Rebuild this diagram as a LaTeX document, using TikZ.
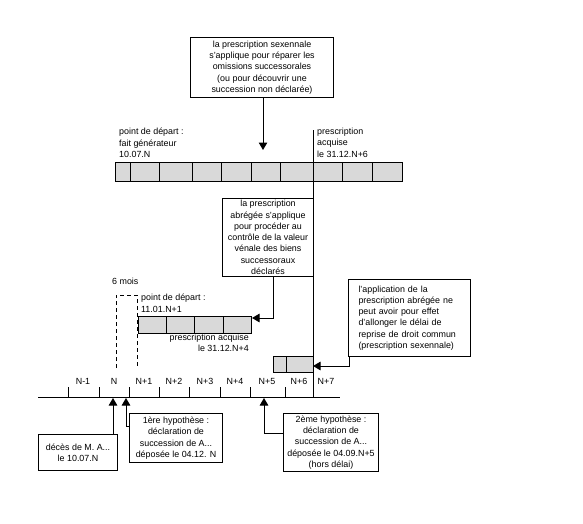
\documentclass[tikz,border=0pt]{standalone}
\usepackage{fontspec}
\setmainfont{Liberation Sans}
\usetikzlibrary{arrows.meta}
\begin{document}
\begin{tikzpicture}[x=1pt,y=-1pt,
  every node/.style={font=\fontsize{8.9}{11.3}\selectfont, inner sep=0pt},
  box/.style={draw, line width=1pt, align=center, anchor=north west},
  lbl/.style={anchor=north west, align=left},
  cellst/.style={draw, fill=black!15, line width=1pt},
  ln/.style={line width=1pt},
  dsh/.style={line width=1pt, dash pattern=on 4pt off 3pt},
  arr/.style={line width=1pt, -{Triangle[length=7.5pt,width=8.5pt]}}]
\useasboundingbox (0,0) rectangle (583,524);

% top box
\node[box, minimum width=143pt, minimum height=60pt] (top) at (190,37)
  {la prescription sexennale\\s'applique pour réparer les\\omissions successorales\\(ou pour découvrir une\\succession non déclarée)};
\coordinate (a1) at (263,150);
\draw[arr] (top.south -| a1) -- (a1);

% top bar
\foreach \a/\b in {115/130,130/159,159/192,192/221,221/251,251/280,280/313,313/342,342/372,372/402}
  \draw[cellst] (\a,162) rectangle (\b,181);
\node[lbl] (pd1) at (119,128) {point de départ :\\fait générateur\\10.07.N};
\node[lbl] (pa1) at (317,128) {prescription\\acquise\\le 31.12.N+6};

% long vertical line
\coordinate (vt) at (313,130);
\coordinate (vb) at (313,397);
\draw[ln] (vt) -- (vb);

% middle box
\node[box, minimum width=91pt, minimum height=78pt] (mid) at (222,198)
  {la prescription\\abrégée s'applique\\pour procéder au\\contrôle de la valeur\\vénale des biens\\successoraux\\déclarés};

% second bar
\foreach \a/\b in {138/166,166/194,194/223,223/251}
  \draw[cellst] (\a,316) rectangle (\b,333);
\node[lbl] (pd2) at (141,294) {point de départ :\\11.01.N+1};
\node[anchor=north east, align=right] (pa2) at (249,334) {prescription acquise\\le 31.12.N+4};
\coordinate (mx) at (273,0);
\coordinate (b2t) at (252,318);
\draw[arr] (mid.south -| mx) |- (b2t);

% right box
\node[draw, line width=1pt, anchor=north west, align=left, minimum width=122pt, minimum height=77pt, text width=102pt, inner xsep=10pt] (rbox) at (348,279)
  {l'application de la\\prescription abrégée ne\\peut avoir pour effet\\d'allonger le délai de\\reprise de droit commun\\(prescription sexennale)};
\coordinate (sbt) at (313,366);
\draw[arr] (rbox.south west) ++(1,0) coordinate (rs) -- (rs |- sbt) -- (sbt);

% small bar
\draw[cellst] (273,356) rectangle (286,372);
\draw[cellst] (286,356) rectangle (313,372);

% 6 mois dashed
\node[anchor=north west] (six) at (112,278) {6 mois};
\draw[dsh] (116,368) -- (116,295) -- (137,295) -- (137,368);

% axis
\coordinate (ax0) at (38,397);
\coordinate (ax1) at (340,397);
\draw[ln] (ax0) -- (ax1);
\foreach \x in {68,99,129,159,189,220,250,285}
  \draw[ln] (\x,387) -- (\x,397);
\foreach \x/\t in {83/N-1,114/N,144/N+1,174/N+2,205/N+3,235/N+4,267/N+5,299/N+6,326/N+7}
  \node (lab\t) at (\x,381) {\t};

% bottom boxes
\node[box, minimum width=79pt, minimum height=36pt] (deces) at (38,434)
  {décès de M. A...\\le 10.07.N};
\node[box, minimum width=93pt, minimum height=49pt] (h1) at (129,413)
  {1ère hypothèse :\\déclaration de\\succession de A...\\déposée le 04.12. N};
\node[box, minimum width=95pt, minimum height=58pt] (h2) at (283,413)
  {2ème hypothèse :\\déclaration de\\succession de A...\\déposée le 04.09.N+5\\(hors délai)};

\coordinate (t1) at (113,398);
\coordinate (t2) at (126,398);
\coordinate (t3) at (264,398);
\coordinate (k2) at (126,426);
\coordinate (k3) at (264,433);
\draw[arr] (deces.north -| t1) -- (t1);
\draw[arr] (h1.west |- k2) -- (k2) -- (t2);
\draw[arr] (h2.west |- k3) -- (k3) -- (t3);
\end{tikzpicture}
\end{document}
